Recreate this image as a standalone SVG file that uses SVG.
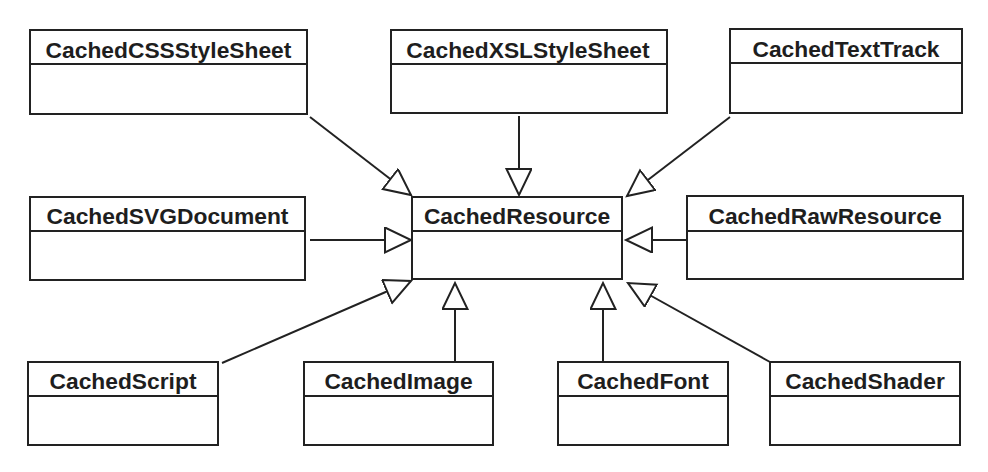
<svg xmlns="http://www.w3.org/2000/svg" width="988" height="472" viewBox="0 0 988 472">
<style>
.box{fill:#fff;stroke:#222;stroke-width:2}
.div{stroke:#222;stroke-width:2}
.t{font-family:"Liberation Sans",Arial,sans-serif;font-weight:bold;font-size:22.8px;fill:#1e1e1e;text-anchor:middle}
.c{stroke:#222;stroke-width:2;fill:none;marker-end:url(#tri)}
</style>
<defs>
<marker id="tri" markerUnits="userSpaceOnUse" markerWidth="30" markerHeight="30" refX="27" refY="13" orient="auto">
<path d="M1,0.5 L27,13 L1,25.5 Z" fill="#fff" stroke="#222" stroke-width="2"/>
</marker>
</defs>
<rect width="988" height="472" fill="#fff"/>
<g id="connectors">
<line class="c" x1="310" y1="117" x2="411" y2="195"/>
<line class="c" x1="519" y1="116" x2="519" y2="195"/>
<line class="c" x1="730" y1="117" x2="627" y2="196"/>
<line class="c" x1="310" y1="240" x2="411" y2="240"/>
<line class="c" x1="687" y1="240" x2="626" y2="240"/>
<line class="c" x1="222" y1="363" x2="411" y2="281"/>
<line class="c" x1="455" y1="362" x2="455" y2="283"/>
<line class="c" x1="603" y1="362" x2="603" y2="283"/>
<line class="c" x1="770" y1="362" x2="628" y2="283"/>
</g>
<g id="CachedCSSStyleSheet">
<rect class="box" x="30" y="30" width="277" height="84"/>
<line class="div" x1="30" y1="64" x2="307" y2="64"/>
<text class="t" x="168.5" y="58">CachedCSSStyleSheet</text>
</g>
<g id="CachedXSLStyleSheet">
<rect class="box" x="391" y="30" width="276" height="83"/>
<line class="div" x1="391" y1="64" x2="667" y2="64"/>
<text class="t" x="528" y="58">CachedXSLStyleSheet</text>
</g>
<g id="CachedTextTrack">
<rect class="box" x="730" y="29" width="232" height="84"/>
<line class="div" x1="730" y1="63" x2="962" y2="63"/>
<text class="t" x="846" y="57">CachedTextTrack</text>
</g>
<g id="CachedSVGDocument">
<rect class="box" x="30" y="197" width="275" height="83"/>
<line class="div" x1="30" y1="231" x2="305" y2="231"/>
<text class="t" x="167.5" y="224">CachedSVGDocument</text>
</g>
<g id="CachedResource">
<rect class="box" x="412" y="197" width="210" height="82"/>
<line class="div" x1="412" y1="231" x2="622" y2="231"/>
<text class="t" x="517" y="224">CachedResource</text>
</g>
<g id="CachedRawResource">
<rect class="box" x="687" y="196" width="276" height="83"/>
<line class="div" x1="687" y1="231" x2="963" y2="231"/>
<text class="t" x="825" y="224">CachedRawResource</text>
</g>
<g id="CachedScript">
<rect class="box" x="28" y="362" width="190" height="83"/>
<line class="div" x1="28" y1="396" x2="218" y2="396"/>
<text class="t" x="123" y="389">CachedScript</text>
</g>
<g id="CachedImage">
<rect class="box" x="304" y="362" width="189" height="83"/>
<line class="div" x1="304" y1="396" x2="493" y2="396"/>
<text class="t" x="398.5" y="389">CachedImage</text>
</g>
<g id="CachedFont">
<rect class="box" x="558" y="362" width="170" height="83"/>
<line class="div" x1="558" y1="396" x2="728" y2="396"/>
<text class="t" x="643" y="389">CachedFont</text>
</g>
<g id="CachedShader">
<rect class="box" x="770" y="362" width="190" height="83"/>
<line class="div" x1="770" y1="396" x2="960" y2="396"/>
<text class="t" x="865" y="389">CachedShader</text>
</g>
</svg>
